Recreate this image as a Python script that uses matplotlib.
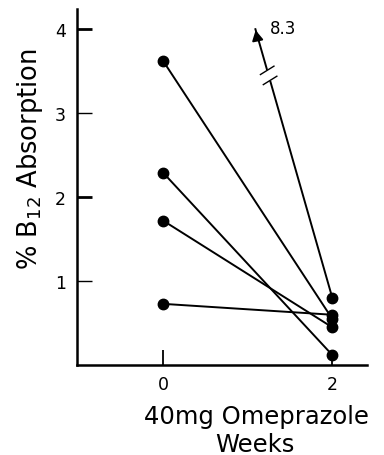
import matplotlib
matplotlib.use("Agg")
import matplotlib.pyplot as plt

# Data
week0_vals = [3.62, 2.29, 1.72, 0.73]
week2_vals = [0.55, 0.12, 0.45, 0.60]
weeks = [0, 2]
outlier_value = 8.3        # week-0 value, shown clipped at the top
outlier_display = (1.09, 4.0)
outlier_week2 = 0.80
yticks = [1, 2, 3, 4]
xticks = [0, 2]

plt.rcParams['font.family'] = ['DejaVu Sans']

fig = plt.figure(figsize=(3.84, 4.56), dpi=100)
ax = fig.add_axes([0.2005, 0.197, 0.7553, 0.781])
ax.set_xlim(-1.02, 2.41)
ax.set_ylim(0, 4.24)

for a, b in zip(week0_vals, week2_vals):
    ax.plot(weeks, [a, b], color='black', lw=1.4, marker='o', ms=7.5,
            solid_capstyle='round')

# outlier line with arrowhead and axis break
ax.plot([outlier_display[0], weeks[1]], [outlier_display[1], outlier_week2],
        color='black', lw=1.4)
ax.plot([weeks[1]], [outlier_week2], marker='o', color='black', ms=7.5)
ax.annotate('', xy=(outlier_display[0] - 0.004, outlier_display[1] + 0.02),
            xytext=(outlier_display[0] + 0.03, outlier_display[1] - 0.15),
            arrowprops=dict(arrowstyle='-|>,head_length=0.55,head_width=0.3',
                            color='black', lw=1.4, mutation_scale=11))
ax.text(outlier_display[0] + 0.17, outlier_display[1] + 0.02, f'{outlier_value}',
        fontsize=12, va='center', ha='left')

# break marks
def line_x(y):
    x0, y0 = outlier_display
    return x0 + (y0 - y) / (y0 - outlier_week2) * (weeks[1] - x0)

ax.plot([line_x(3.49), line_x(3.41)], [3.49, 3.41], color='white', lw=3)
for yb in (3.51, 3.39):
    xb = line_x(yb)
    ax.plot([xb - 0.08, xb + 0.08], [yb - 0.05, yb + 0.05], color='black', lw=1.0)

ax.spines['top'].set_visible(False)
ax.spines['right'].set_visible(False)
ax.spines['left'].set_linewidth(1.8)
ax.spines['bottom'].set_linewidth(1.8)

ax.set_yticks(yticks)
ax.set_yticklabels([str(v) for v in yticks], fontsize=12.5)
ax.set_xticks(xticks)
ax.set_xticklabels([str(v) for v in xticks], fontsize=12.5)
ax.tick_params(axis='y', direction='in', length=11, width=1.0, pad=8)
ax.tick_params(axis='x', direction='in', length=11, width=1.3, pad=7)
for t, v in zip(ax.yaxis.get_major_ticks(), yticks):
    if v in (2, 4):
        t.tick1line.set_markeredgewidth(2.0)

fig.text(0.078, 0.65, r'% B$_{12}$ Absorption', rotation=90, fontsize=18.5,
         ha='center', va='center')
fig.text(0.667, 0.085, '40mg Omeprazole', fontsize=17.5, ha='center', va='center')
fig.text(0.664, 0.024, 'Weeks', fontsize=17.5, ha='center', va='center')

fig.savefig('out.png', dpi=100)
